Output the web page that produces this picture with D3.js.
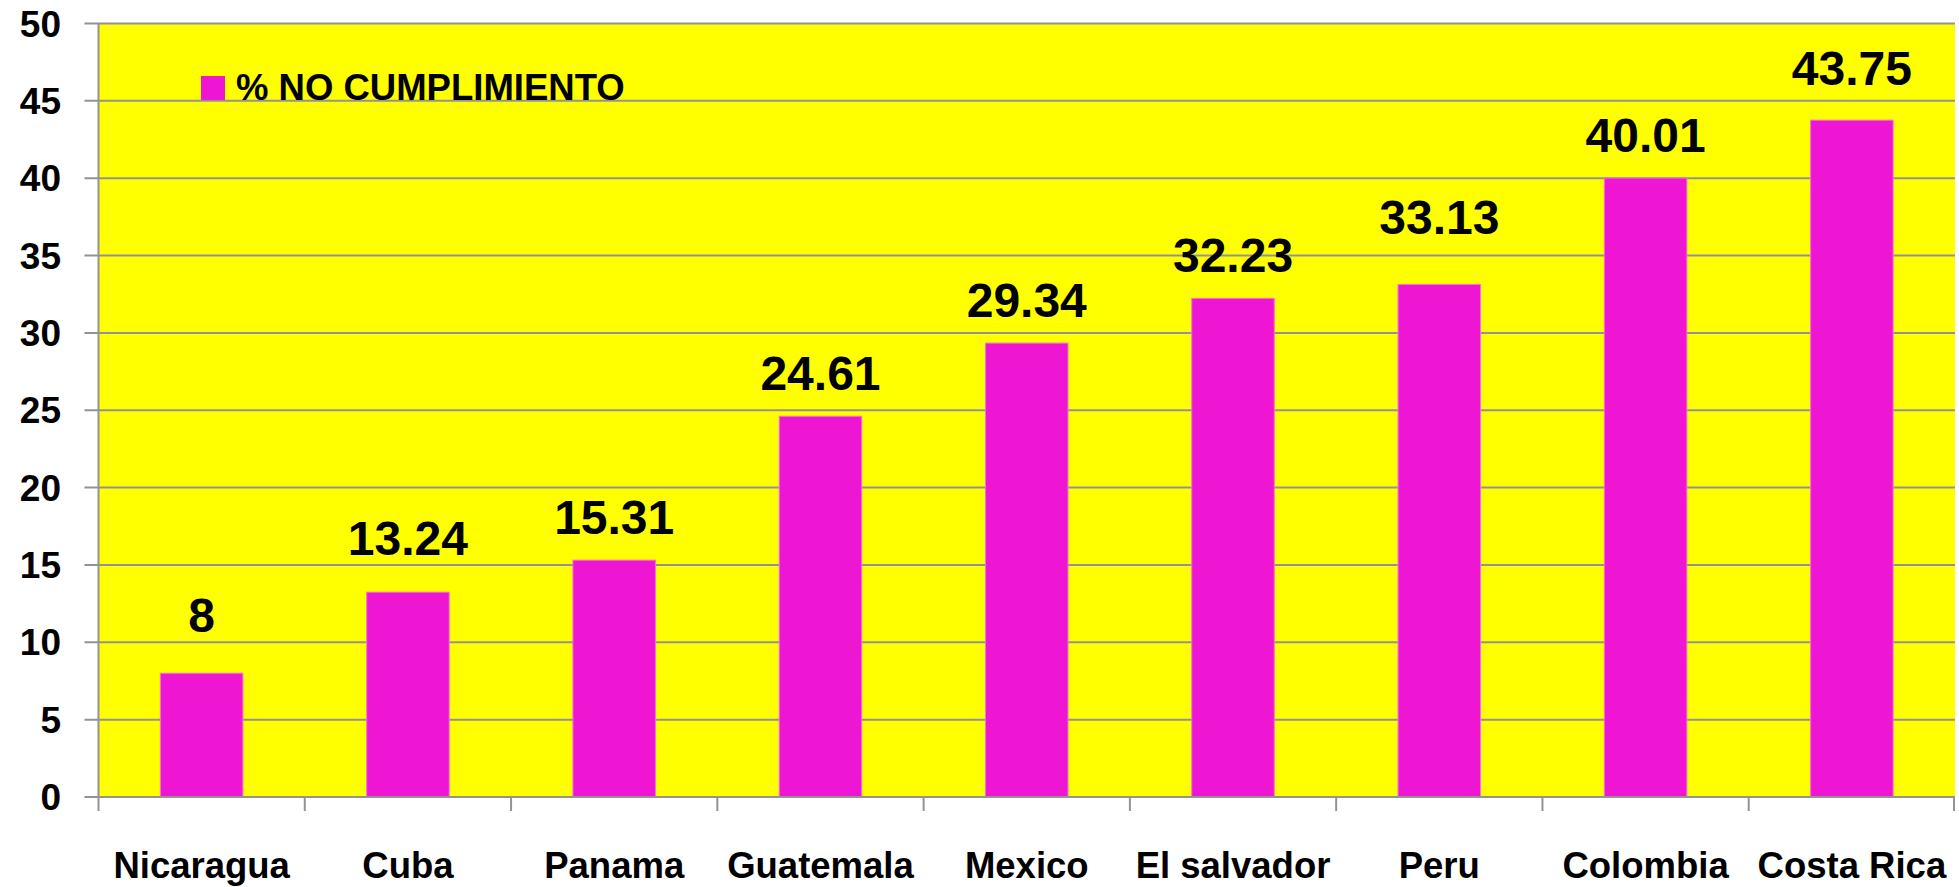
<!DOCTYPE html>
<html>
<head>
<meta charset="utf-8">
<script src="https://cdn.jsdelivr.net/npm/d3@7"></script>
<style>
  body { margin: 0; background: #fff; }
  svg { display: block; }
  text { font-family: "Liberation Sans", Arial, sans-serif; font-weight: bold; fill: #000; }
</style>
</head>
<body>
<div id="chart"></div>
<script>
// data
var countries = ["Nicaragua", "Cuba", "Panama", "Guatemala", "Mexico", "El salvador", "Peru", "Colombia", "Costa Rica"];
var noCumplimiento = [8, 13.24, 15.31, 24.61, 29.34, 32.23, 33.13, 40.01, 43.75];
var valueLabels = ["8", "13.24", "15.31", "24.61", "29.34", "32.23", "33.13", "40.01", "43.75"];
var yTicks = [0, 5, 10, 15, 20, 25, 30, 35, 40, 45, 50];
var seriesName = "% NO CUMPLIMIENTO";

var width = 1959, height = 887;
var margin = {top: 23.5, right: 4, bottom: 90, left: 98.5};

var svg = d3.select("#chart")
  .append("svg")
  .attr("width", width)
  .attr("height", height);

var x = d3.scaleBand()
  .domain(countries)
  .range([margin.left, width - margin.right])
  .paddingInner(0.6)
  .paddingOuter(0.3);

var y = d3.scaleLinear()
  .domain([0, 50])
  .range([height - margin.bottom, margin.top]);

// plot background
svg.append("rect")
  .attr("x", margin.left)
  .attr("y", y(50))
  .attr("width", width - margin.right - margin.left)
  .attr("height", y(0) - y(50))
  .attr("fill", "#ffff00");

// gridlines + y ticks
svg.append("g")
  .selectAll("line")
  .data(yTicks)
  .enter()
  .append("line")
    .attr("x1", margin.left - 14)
    .attr("x2", width - margin.right)
    .attr("y1", function(d){ return y(d) })
    .attr("y2", function(d){ return y(d) })
    .attr("stroke", "#939393")
    .attr("stroke-width", 2);

svg.append("g")
  .selectAll("text")
  .data(yTicks)
  .enter()
  .append("text")
    .attr("x", 61)
    .attr("y", function(d){ return y(d) + 13 })
    .attr("text-anchor", "end")
    .style("font-size", "37px")
    .text(function(d){ return d });

// bars
svg.append("g")
  .selectAll("rect")
  .data(countries)
  .enter()
  .append("rect")
    .attr("x", function(d){ return x(d) })
    .attr("y", function(d, i){ return y(noCumplimiento[i]) })
    .attr("width", x.bandwidth())
    .attr("height", function(d, i){ return y(0) - y(noCumplimiento[i]) })
    .attr("fill", "#ee16d3")
    .attr("stroke", "#f36fe3")
    .attr("stroke-width", 1);

// value labels (gap above the bar, some were nudged by hand in the original)
var labelGap = {"Nicaragua": 41, "Cuba": 37, "Peru": 50, "Costa Rica": 35};

svg.append("g")
  .selectAll("text")
  .data(countries)
  .enter()
  .append("text")
    .attr("x", function(d){ return x(d) + x.bandwidth() / 2 })
    .attr("y", function(d, i){ return y(noCumplimiento[i]) - (labelGap[d] || 26) })
    .attr("text-anchor", "middle")
    .style("font-size", "48px")
    .text(function(d, i){ return valueLabels[i] });

// x axis
var step = x.step();
var bounds = d3.range(countries.length + 1).map(function(i){ return margin.left + i * step });

svg.append("line")
  .attr("x1", margin.left).attr("x2", width - margin.right)
  .attr("y1", y(0)).attr("y2", y(0))
  .attr("stroke", "#939393").attr("stroke-width", 2);

svg.append("line")
  .attr("x1", margin.left).attr("x2", margin.left)
  .attr("y1", y(50)).attr("y2", y(0))
  .attr("stroke", "#939393").attr("stroke-width", 2);

svg.append("g")
  .selectAll("line")
  .data(bounds)
  .enter()
  .append("line")
    .attr("x1", function(d){ return Math.min(d, width - margin.right - 1) })
    .attr("x2", function(d){ return Math.min(d, width - margin.right - 1) })
    .attr("y1", y(0))
    .attr("y2", y(0) + 14)
    .attr("stroke", "#939393")
    .attr("stroke-width", 2);

svg.append("g")
  .selectAll("text")
  .data(countries)
  .enter()
  .append("text")
    .attr("x", function(d){ return x(d) + x.bandwidth() / 2 })
    .attr("y", 878)
    .attr("text-anchor", "middle")
    .style("font-size", "36.5px")
    .text(function(d){ return d });

// legend
svg.append("rect")
  .attr("x", 201).attr("y", 76)
  .attr("width", 24).attr("height", 24)
  .attr("fill", "#ee16d3");

svg.append("text")
  .attr("x", 236)
  .attr("y", 100)
  .style("font-size", "36.5px")
  .text(seriesName);
</script>
</body>
</html>
